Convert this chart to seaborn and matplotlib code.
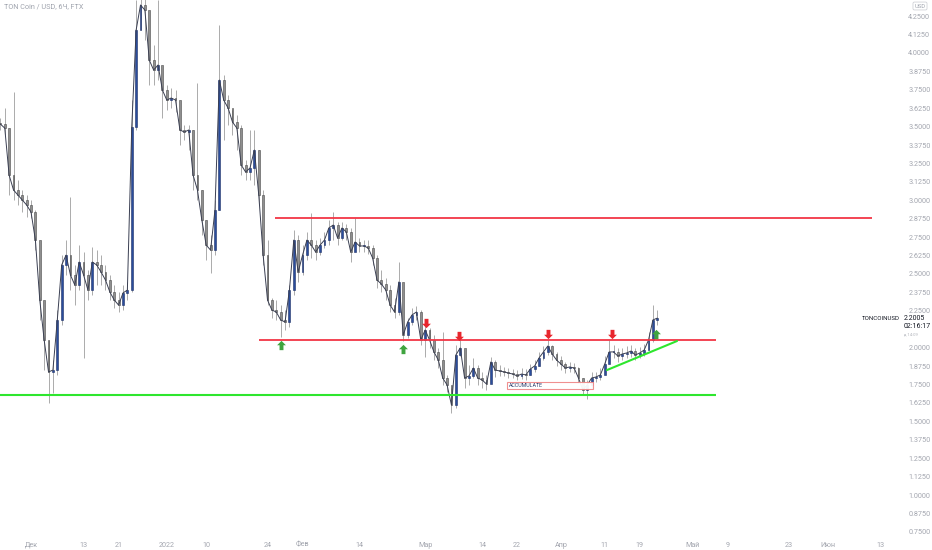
import numpy as np
import pandas as pd
import matplotlib
matplotlib.use("Agg")
import matplotlib.pyplot as plt
import matplotlib.dates as mdates
import matplotlib.transforms as mtransforms
from matplotlib.path import Path
from matplotlib.patches import Rectangle
import seaborn as sns

# ---------------- data (daily approximation of the 6h TONCOIN/USD chart) ----------------
start_date = "2021-11-24"
first_open = 3.52
close = [3.517, 3.490, 3.171, 3.070, 3.036, 3.002, 2.968,
         2.920, 2.730, 2.323, 2.052, 1.835, 1.848, 2.188, 2.561, 2.628, 2.493,
         2.425, 2.581, 2.493, 2.391, 2.581, 2.561, 2.513, 2.459, 2.378, 2.323,
         2.289, 2.371, 2.391, 3.497, 4.155, 4.325, 4.291, 3.951, 3.884, 3.918,
         3.748, 3.680, 3.694, 3.680, 3.477, 3.463, 3.477, 3.171, 3.070, 2.866,
         2.696, 2.662, 2.934, 3.816, 3.680, 3.626, 3.531, 3.490, 3.239, 3.192,
         3.219, 3.341, 3.036, 2.628, 2.323, 2.255, 2.242, 2.188, 2.174, 2.391,
         2.730, 2.513, 2.628, 2.730, 2.696, 2.649, 2.696, 2.730, 2.812, 2.832,
         2.744, 2.812, 2.785, 2.649, 2.717, 2.690, 2.690, 2.676, 2.608, 2.459,
         2.432, 2.391, 2.289, 2.242, 2.446, 2.086, 2.174, 2.222, 2.242, 2.052,
         2.120, 2.052, 1.971, 1.916, 1.794, 1.747, 1.611, 1.950, 1.998, 1.794,
         1.808, 1.862, 1.794, 1.781, 1.753, 1.903, 1.848, 1.842, 1.835, 1.828,
         1.821, 1.808, 1.821, 1.815, 1.855, 1.876, 1.930, 1.971, 2.011, 1.957,
         1.916, 1.889, 1.862, 1.869, 1.862, 1.794, 1.713, 1.747, 1.794, 1.801,
         1.815, 1.889, 1.971, 1.971, 1.943, 1.957, 1.964, 1.977, 1.950, 1.964,
         1.984, 2.052, 2.188, 2.2005]
high = [3.558, 3.626, 3.490, 3.734, 3.137, 3.070, 3.036,
        3.002, 2.934, 2.628, 2.255, 2.052, 1.916, 2.255, 2.628, 2.730, 3.022,
        2.561, 2.696, 2.649, 2.527, 2.683, 2.662, 2.628, 2.561, 2.493, 2.425,
        2.378, 2.425, 2.446, 3.680, 4.359, 4.494, 4.460, 4.155, 4.053, 4.359,
        3.884, 3.782, 3.762, 3.748, 3.612, 3.510, 3.510, 3.477, 3.795, 3.070,
        2.866, 2.764, 3.002, 4.189, 3.850, 3.714, 3.612, 3.578, 3.510, 3.273,
        3.477, 3.477, 3.341, 3.070, 2.730, 2.337, 2.323, 2.289, 2.255, 2.425,
        2.798, 2.764, 2.696, 2.785, 2.914, 2.730, 2.744, 2.785, 2.866, 2.920,
        2.852, 2.852, 2.839, 2.812, 2.880, 2.744, 2.730, 2.730, 2.696, 2.628,
        2.527, 2.473, 2.425, 2.337, 2.581, 2.357, 2.201, 2.269, 2.283, 2.255,
        2.154, 2.133, 2.086, 1.998, 2.106, 1.815, 1.726, 2.018, 2.072, 1.984,
        1.882, 1.930, 1.882, 1.835, 1.815, 1.937, 1.916, 1.882, 1.869, 1.862,
        1.855, 1.848, 1.862, 1.855, 1.889, 1.916, 1.971, 2.011, 2.052, 2.018,
        1.971, 1.943, 1.903, 1.903, 1.896, 1.869, 1.794, 1.781, 1.835, 1.835,
        1.862, 1.943, 2.052, 2.018, 1.998, 1.998, 2.011, 2.018, 1.998, 2.004,
        2.025, 2.106, 2.290, 2.255]
low = [3.477, 3.443, 3.036, 3.002, 2.968, 2.920, 2.886,
       2.880, 2.662, 2.188, 1.848, 1.625, 1.692, 1.815, 2.154, 2.493, 2.391,
       2.289, 2.391, 1.930, 2.323, 2.357, 2.425, 2.425, 2.391, 2.323, 2.269,
       2.242, 2.255, 2.323, 2.378, 3.477, 4.155, 4.087, 3.782, 3.782, 3.816,
       3.558, 3.612, 3.626, 3.599, 3.375, 3.409, 3.341, 3.070, 3.002, 2.764,
       2.595, 2.506, 2.628, 2.934, 3.409, 3.510, 3.443, 3.341, 3.171, 3.137,
       3.137, 3.103, 2.968, 2.561, 2.289, 2.201, 2.188, 2.072, 2.120, 2.140,
       2.357, 2.446, 2.493, 2.595, 2.608, 2.595, 2.628, 2.676, 2.696, 2.730,
       2.696, 2.730, 2.730, 2.581, 2.662, 2.649, 2.649, 2.635, 2.561, 2.405,
       2.378, 2.323, 2.242, 2.201, 2.222, 2.045, 2.066, 2.154, 2.188, 2.018,
       1.937, 1.998, 1.916, 1.862, 1.747, 1.699, 1.557, 1.591, 1.943, 1.726,
       1.747, 1.794, 1.747, 1.726, 1.713, 1.794, 1.801, 1.808, 1.808, 1.794,
       1.794, 1.781, 1.787, 1.781, 1.815, 1.835, 1.876, 1.916, 1.950, 1.916,
       1.876, 1.848, 1.828, 1.835, 1.828, 1.760, 1.679, 1.652, 1.726, 1.767,
       1.781, 1.835, 1.916, 1.930, 1.903, 1.916, 1.930, 1.937, 1.916, 1.930,
       1.943, 1.984, 2.038, 2.154]

# drawn levels / annotations
level_top = 2.88
level_top_span = ["2022-01-25 18:00", "2022-06-11"]
level_mid = 2.052
level_mid_span = ["2022-01-22", "2022-05-06 10:00"]
level_support = 1.679
level_support_span = ["2021-11-23 22:00", "2022-05-06 10:00"]
trend_dates = ["2022-04-11 12:00", "2022-04-27 12:00"]
trend_prices = [1.848, 2.045]
up_arrow_dates = ["2022-01-27 02:00", "2022-02-24", "2022-04-22 16:00"]
up_arrow_prices = [2.018, 1.991, 2.095]
down_arrow_dates = ["2022-03-01 05:00", "2022-03-08 16:00", "2022-03-29", "2022-04-12 14:00"]
down_arrow_prices = [2.167, 2.079, 2.093, 2.093]
accum_span = ["2022-03-19 16:00", "2022-04-08 08:00"]
accum_prices = [1.720, 1.767]

tick_dates = ["2021-12-01", "2021-12-13", "2021-12-21", "2022-01-01", "2022-01-10",
              "2022-01-24", "2022-02-01", "2022-02-14", "2022-03-01", "2022-03-14",
              "2022-03-22", "2022-04-01", "2022-04-11", "2022-04-19", "2022-05-01",
              "2022-05-09", "2022-05-23", "2022-06-01", "2022-06-13"]
tick_labels = ["Дек", "13", "21", "2022", "10", "24", "Фев", "14", "Мар", "14",
               "22", "Апр", "11", "19", "Май", "9", "23", "Июн", "13"]
price_ticks = np.arange(0.75, 4.2501, 0.125)
hidden_price_tick = 2.125   # covered by the last-price label in the reference

# ---------------- style ----------------
sns.set_theme(style="white")
plt.rcParams["font.family"] = ["Roboto", "DejaVu Sans"]

W, H = 932, 550
fig = plt.figure(figsize=(W / 100, H / 100), dpi=100)
ax = fig.add_axes([0, 14 / H, 900 / W, 536 / H])
ax.set_facecolor("white")

dates = pd.date_range(start_date, periods=len(close), freq="D")
df = pd.DataFrame({"date": dates, "close": close, "high": high, "low": low})
df["open"] = [first_open] + close[:-1]
df["up"] = df["close"] >= df["open"]
xnum = mdates.date2num(df["date"])

# wicks
ax.vlines(xnum, df["low"], df["high"], color="#ababab", lw=0.7, zorder=2)
# bodies
body_lo = np.minimum(df["open"], df["close"])
body_h = np.maximum(np.abs(df["close"] - df["open"]), 0.006)
colors = np.where(df["up"], "#2a4d9c", "#8f8f8f")
edges = np.where(df["up"], "#1d2f66", "#4a4a4a")
ax.bar(xnum, body_h, bottom=body_lo, width=0.42, color=colors, edgecolor=edges,
       linewidth=0.4, zorder=3)
# thin connecting line (continuity of the dense 6h candles)
sns.lineplot(x=xnum, y=df["close"].values, ax=ax, color="#3a3f52", lw=0.7, zorder=4)

# levels
def dnum(s):
    return mdates.date2num(pd.to_datetime(s))

red = "#f23645"
green = "#2ee62e"
ax.hlines(level_top, dnum(level_top_span[0]), dnum(level_top_span[1]), color=red, lw=1.3, zorder=5)
ax.hlines(level_mid, dnum(level_mid_span[0]), dnum(level_mid_span[1]), color=red, lw=1.3, zorder=5)
ax.hlines(level_support, dnum(level_support_span[0]), dnum(level_support_span[1]), color=green, lw=1.5, zorder=5)
ax.plot([dnum(d) for d in trend_dates], trend_prices, color=green, lw=1.5, zorder=5)

# accumulate box
x0, x1 = dnum(accum_span[0]), dnum(accum_span[1])
ax.add_patch(Rectangle((x0, accum_prices[0]), x1 - x0, accum_prices[1] - accum_prices[0],
                       facecolor="white", edgecolor="#f08a8a", lw=0.8, alpha=0.95, zorder=6))
ax.text(x0 + 0.5, (accum_prices[0] + accum_prices[1]) / 2, "ACCUMULATE", fontsize=3.8,
        color="#2a3a6a", va="center", ha="left", zorder=7)

# arrows
up_verts = [(0, 1), (0.95, 0.05), (0.42, 0.05), (0.42, -1), (-0.42, -1), (-0.42, 0.05),
            (-0.95, 0.05), (0, 1)]
up_path = Path(up_verts, [Path.MOVETO] + [Path.LINETO] * 6 + [Path.CLOSEPOLY])
down_path = Path([(x, -y) for x, y in up_verts], [Path.MOVETO] + [Path.LINETO] * 6 + [Path.CLOSEPOLY])
ax.scatter([dnum(d) for d in up_arrow_dates], up_arrow_prices, marker=up_path, s=45,
           color="#3fa43f", linewidths=0, zorder=8)
ax.scatter([dnum(d) for d in down_arrow_dates], down_arrow_prices, marker=down_path, s=45,
           color="#e8262d", linewidths=0, zorder=8)

# axes
ax.set_xlim(dnum("2021-11-23 22:00"), dnum("2022-06-17 10:00"))
ax.set_ylim(0.722, 4.359)
ax.yaxis.tick_right()
ax.set_yticks(price_ticks)
ax.set_yticklabels(["" if abs(v - hidden_price_tick) < 1e-9 else f"{v:.4f}" for v in price_ticks])
ax.set_xticks([dnum(d) for d in tick_dates])
ax.set_xticklabels(tick_labels)
ax.tick_params(axis="y", length=0, pad=6, labelsize=5.2, labelcolor="#a3a6af")
ax.tick_params(axis="x", length=0, pad=4, labelsize=5.2, labelcolor="#a3a6af")
ax.set_xlabel("")
ax.set_ylabel("")
for s in ax.spines.values():
    s.set_visible(False)
ax.grid(False)

# texts
fig.text(4 / W, 1 - 7 / H, "TON Coin / USD, 6Ч, FTX", fontsize=5.2, color="#9fa3ad",
         va="center", ha="left")
fig.text(920 / W, 1 - 6 / H, "USD", fontsize=4.2, color="#9fa3ad", va="center", ha="center",
         bbox=dict(boxstyle="round,pad=0.25", fc="white", ec="#c8cad0", lw=0.5))
trans = mtransforms.blended_transform_factory(fig.transFigure, ax.transData)
last = close[-1]
ax.text(900 / W, last, "TONCOINUSD", transform=trans, fontsize=4.4, color="#131722",
        va="center", ha="right")
ax.text(904 / W, last, f"{last:.4f}", transform=trans, fontsize=5.0, color="#131722",
        va="center", ha="left")
ax.text(904 / W, last - 0.056, "02:16:17", transform=trans, fontsize=5.0, color="#131722",
        va="center", ha="left")
ax.text(904 / W, last - 0.11, "д 14:09", transform=trans, fontsize=3.0, color="#b0b3ba",
        va="center", ha="left")

fig.savefig("out.png", dpi=100, facecolor="white")
